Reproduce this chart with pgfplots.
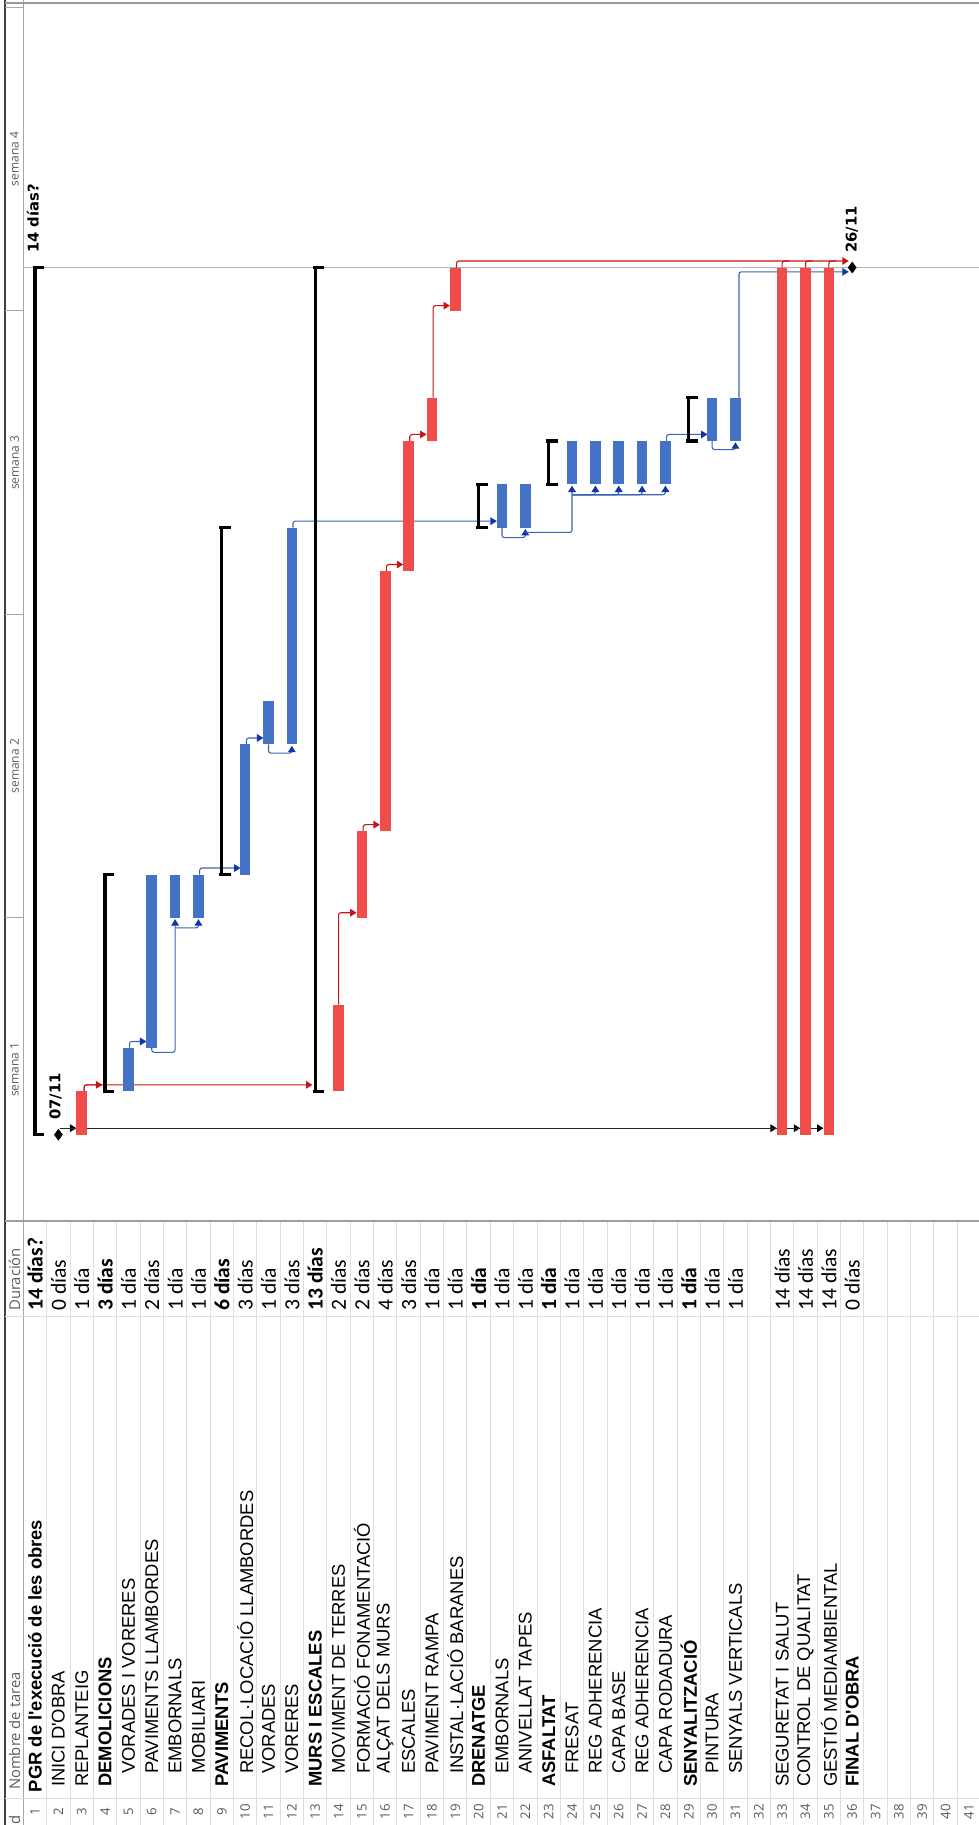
\documentclass[border=0pt]{standalone}
\usepackage{fontspec}
\setmainfont{Liberation Sans}
\newfontfamily\calfont{Carlito}
\newfontfamily\segfont{Open Sans}
\newfontfamily\dvfont{DejaVu Sans}
\usepackage{pgfplots}
\pgfplotsset{compat=1.18}
\usetikzlibrary{arrows.meta}

\definecolor{critred}{RGB}{240,76,76}
\definecolor{taskblue}{RGB}{68,114,196}
\definecolor{linkred}{RGB}{200,20,20}
\definecolor{linkblue}{RGB}{60,100,180}
\definecolor{arrblue}{RGB}{20,50,170}
\definecolor{gridgray}{RGB}{222,222,222}
\definecolor{hdrgray}{RGB}{90,90,90}

\pgfdeclareplotmark{capr}{\pgfpathmoveto{\pgfqpoint{-1.2pt}{0pt}}\pgfpathlineto{\pgfqpoint{4.6pt}{0pt}}\pgfusepathqstroke}

\pgfplotsset{
  critbar/.style={critred, line width=5.3pt, line cap=butt, mark=none},
  taskbar/.style={taskblue, line width=5.3pt, line cap=butt, mark=none},
  sumbar/.style={black, line width=1.6pt, line cap=butt, mark=capr, mark options={line width=1.7pt, solid, line cap=butt}},
  rlink/.style={linkred, line width=0.55pt, rounded corners=1.2pt, mark=none, -{Triangle[length=3.2pt,width=3.8pt]}},
  rline/.style={linkred, line width=0.55pt, rounded corners=1.2pt, mark=none},
  blink/.style={linkblue, line width=0.55pt, rounded corners=1.2pt, mark=none, -{Triangle[length=3.2pt,width=3.8pt,color=arrblue]}},
  klink/.style={black!85, line width=0.55pt, rounded corners=1.2pt, mark=none, -{Triangle[length=3.2pt,width=3.8pt,color=black]}},
  gline/.style={gridgray, line width=0.5pt, mark=none},
}

\newcommand\crit[3]{\addplot[critbar] coordinates {(#1,#2) (#1,#3)};}
\newcommand\task[3]{\addplot[taskbar] coordinates {(#1,#2) (#1,#3)};}
\newcommand\summ[3]{\addplot[sumbar] coordinates {(#1,#2) (#1,#3)};}
\newcommand\nmfont{\fontsize{9.2}{10}\selectfont}
\newcommand\nameL[3]{\node[rotate=90, anchor=west, inner sep=0pt, font=\nmfont] at (axis cs:#1,#2) {#3};}
\newcommand\dur[2]{\node[rotate=90, anchor=west, inner sep=0pt, font=\calfont\fontsize{10.8}{11}\selectfont] at (axis cs:#1,-4.07) {#2};}
\newcommand\hdrfont{\segfont\fontsize{7.4}{8}\selectfont}
\newcommand\lblfont{\dvfont\bfseries\fontsize{7.4}{8}\selectfont}

\begin{document}
\begin{tikzpicture}
\begin{axis}[
  width=489.5pt, height=912.5pt, scale only axis,
  xmin=-0.5, xmax=41.43, ymin=-15.92, ymax=26.17,
  hide axis, clip=true
]
% ---------- frame and grid ----------
\addplot[black!75, line width=0.8pt, mark=none] coordinates {(-0.285,-15.92) (-0.285,26.17)};
\addplot[gray!70, line width=0.6pt, mark=none] coordinates {(0.5,-15.92) (0.5,26.17)};
\addplot[gray!80, line width=1pt, mark=none] coordinates {(-0.285,26.11) (41.43,26.11)};
\addplot[gray!60, line width=0.6pt, mark=none] coordinates {(0.5,20) (41.43,20)};
\pgfplotsinvokeforeach{5,12,19,26}{\addplot[gray!70, line width=0.5pt, mark=none] coordinates {(-0.285,#1) (0.5,#1)};}
\pgfplotsinvokeforeach{1.5,2.5,...,41.5}{\addplot[gline] coordinates {(#1,-1.99) (#1,-15.92)};}
\addplot[gray!75, line width=0.8pt, mark=none] coordinates {(-0.285,-1.99) (41.43,-1.99)};
\addplot[gline] coordinates {(-0.285,-4.2) (41.43,-4.2)};
\addplot[gline] coordinates {(-0.285,-15.3) (41.43,-15.3)};

% ---------- week labels ----------
\node[rotate=90, font=\segfont\fontsize{6}{7}\selectfont, text=hdrgray, inner sep=0pt] at (axis cs:0.12,1.5) {semana 1};
\node[rotate=90, font=\segfont\fontsize{6}{7}\selectfont, text=hdrgray, inner sep=0pt] at (axis cs:0.12,8.5) {semana 2};
\node[rotate=90, font=\segfont\fontsize{6}{7}\selectfont, text=hdrgray, inner sep=0pt] at (axis cs:0.12,15.5) {semana 3};
\node[rotate=90, font=\segfont\fontsize{6}{7}\selectfont, text=hdrgray, inner sep=0pt] at (axis cs:0.12,22.5) {semana 4};

% ---------- header texts ----------
\node[rotate=90, anchor=west, inner sep=0pt, font=\hdrfont, text=hdrgray] at (axis cs:0.12,-4.07) {Duración};
\node[rotate=90, anchor=west, inner sep=0pt, font=\hdrfont, text=hdrgray] at (axis cs:0.12,-15.12) {Nombre de tarea};
\node[rotate=90, anchor=west, inner sep=0pt, font=\hdrfont, text=hdrgray] at (axis cs:0.12,-16.02) {Id};

% ---------- links ----------
\addplot[klink] coordinates {(2.05,0.15) (2.77,0.15)};
\addplot[klink] coordinates {(2.05,0.15) (32.77,0.15)};
\addplot[klink] coordinates {(2.05,0.15) (33.77,0.15)};
\addplot[klink] coordinates {(2.05,0.15) (34.77,0.15)};

\addplot[rlink] coordinates {(3.1,1.0) (3.1,1.15) (3.88,1.15)};
\addplot[rlink] coordinates {(3.1,1.0) (3.1,1.15) (12.88,1.15)};
\addplot[rlink] coordinates {(14.0,3.0) (14.0,5.12) (14.77,5.12)};
\addplot[rlink] coordinates {(15.05,7.0) (15.05,7.15) (15.77,7.15)};
\addplot[rlink] coordinates {(16.05,13.0) (16.05,13.15) (16.77,13.15)};
\addplot[rlink] coordinates {(17.05,16.0) (17.05,16.15) (17.77,16.15)};
\addplot[rlink] coordinates {(18.05,17.0) (18.05,19.12) (18.77,19.12)};
\addplot[rlink] coordinates {(19.05,20.0) (19.05,20.15) (35.85,20.15)};
\addplot[rline] coordinates {(33.0,20.0) (33.0,20.15) (33.3,20.15)};
\addplot[rline] coordinates {(34.0,20.0) (34.0,20.15) (34.3,20.15)};
\addplot[rline] coordinates {(35.0,20.0) (35.0,20.15) (35.3,20.15)};

\addplot[blink] coordinates {(5.05,2.0) (5.05,2.15) (5.77,2.15)};
\addplot[blink] coordinates {(6.0,2.0) (6.0,1.9) (7.0,1.9) (7.0,4.97)};
\addplot[blink] coordinates {(7.0,4.77) (8.0,4.77) (8.0,4.97)};
\addplot[blink] coordinates {(8.05,6.0) (8.05,6.15) (9.8,6.15)};
\addplot[blink] coordinates {(10.05,9.0) (10.05,9.15) (10.78,9.15)};
\addplot[blink] coordinates {(11.0,9.0) (11.0,8.8) (12.0,8.8) (12.0,8.97)};
\addplot[blink] coordinates {(12.05,14.0) (12.05,14.15) (20.78,14.15)};
\addplot[blink] coordinates {(21.0,14.0) (21.0,13.77) (22.0,13.77) (22.0,13.97)};
\addplot[blink] coordinates {(22.0,13.89) (24.0,13.89) (24.0,14.97)};
\addplot[blink] coordinates {(24.0,14.76) (25.0,14.76) (25.0,14.97)};
\addplot[blink] coordinates {(24.0,14.76) (26.0,14.76) (26.0,14.97)};
\addplot[blink] coordinates {(24.0,14.76) (27.0,14.76) (27.0,14.97)};
\addplot[blink] coordinates {(24.0,14.76) (28.0,14.76) (28.0,14.97)};
\addplot[blink] coordinates {(28.05,16.0) (28.05,16.15) (29.8,16.15)};
\addplot[blink] coordinates {(30.0,16.0) (30.0,15.8) (31.0,15.8) (31.0,15.97)};
\addplot[blink] coordinates {(31.15,17.0) (31.15,19.9) (35.85,19.9)};

% ---------- summaries ----------
\summ{1}{0}{20}
\summ{4}{1}{6}
\summ{9}{6}{14}
\summ{13}{1}{20}
\summ{20}{14}{15}
\summ{23}{15}{16}
\summ{29}{16}{17}

% ---------- critical tasks ----------
\crit{3}{0}{1}
\crit{14}{1}{3}
\crit{15}{5}{7}
\crit{16}{7}{13}
\crit{17}{13}{16}
\crit{18}{16}{17}
\crit{19}{19}{20}
\crit{33}{0}{20}
\crit{34}{0}{20}
\crit{35}{0}{20}

% ---------- other tasks ----------
\task{5}{1}{2}
\task{6}{2}{6}
\task{7}{5}{6}
\task{8}{5}{6}
\task{10}{6}{9}
\task{11}{9}{10}
\task{12}{9}{14}
\task{21}{14}{15}
\task{22}{14}{15}
\task{24}{15}{16}
\task{25}{15}{16}
\task{26}{15}{16}
\task{27}{15}{16}
\task{28}{15}{16}
\task{30}{16}{17}
\task{31}{16}{17}

% ---------- milestones ----------
\addplot[only marks, mark=diamond*, mark size=2.6pt, black] coordinates {(2,0) (36,20)};

% ---------- chart labels ----------
\node[rotate=90, anchor=west, inner sep=0pt, font=\lblfont] at (axis cs:0.9,20.33) {14 días?};
\node[rotate=90, anchor=west, inner sep=0pt, font=\lblfont] at (axis cs:1.88,0.33) {07/11};
\node[rotate=90, anchor=west, inner sep=0pt, font=\lblfont] at (axis cs:35.98,20.33) {26/11};

% ---------- table: names ----------
\nameL{1}{-15.17}{\bfseries PGR de l\textquotesingle execució de les obres}
\nameL{2}{-15.05}{INICI D\textquotesingle OBRA}
\nameL{3}{-15.05}{REPLANTEIG}
\nameL{4}{-15.05}{\bfseries DEMOLICIONS}
\nameL{5}{-14.75}{VORADES I VORERES}
\nameL{6}{-14.75}{PAVIMENTS LLAMBORDES}
\nameL{7}{-14.75}{EMBORNALS}
\nameL{8}{-14.75}{MOBILIARI}
\nameL{9}{-15.05}{\bfseries PAVIMENTS}
\nameL{10}{-14.75}{RECOL·LOCACIÓ LLAMBORDES}
\nameL{11}{-14.75}{VORADES}
\nameL{12}{-14.75}{VORERES}
\nameL{13}{-15.05}{\bfseries MURS I ESCALES}
\nameL{14}{-14.75}{MOVIMENT DE TERRES}
\nameL{15}{-14.75}{FORMACIÓ FONAMENTACIÓ}
\nameL{16}{-14.75}{ALÇAT DELS MURS}
\nameL{17}{-14.75}{ESCALES}
\nameL{18}{-14.75}{PAVIMENT RAMPA}
\nameL{19}{-14.75}{INSTAL·LACIÓ BARANES}
\nameL{20}{-15.05}{\bfseries DRENATGE}
\nameL{21}{-14.75}{EMBORNALS}
\nameL{22}{-14.75}{ANIVELLAT TAPES}
\nameL{23}{-15.05}{\bfseries ASFALTAT}
\nameL{24}{-14.75}{FRESAT}
\nameL{25}{-14.75}{REG ADHERENCIA}
\nameL{26}{-14.75}{CAPA BASE}
\nameL{27}{-14.75}{REG ADHERENCIA}
\nameL{28}{-14.75}{CAPA RODADURA}
\nameL{29}{-15.05}{\bfseries SENYALITZACIÓ}
\nameL{30}{-14.75}{PINTURA}
\nameL{31}{-14.75}{SENYALS VERTICALS}
\nameL{33}{-15.05}{SEGURETAT I SALUT}
\nameL{34}{-15.05}{CONTROL DE QUALITAT}
\nameL{35}{-15.05}{GESTIÓ MEDIAMBIENTAL}
\nameL{36}{-15.05}{\bfseries FINAL D\textquotesingle OBRA}

% ---------- table: durations ----------
\dur{1}{\bfseries 14 días?}
\dur{2}{0 días}
\dur{3}{1 día}
\dur{4}{\bfseries 3 días}
\dur{5}{1 día}
\dur{6}{2 días}
\dur{7}{1 día}
\dur{8}{1 día}
\dur{9}{\bfseries 6 días}
\dur{10}{3 días}
\dur{11}{1 día}
\dur{12}{3 días}
\dur{13}{\bfseries 13 días}
\dur{14}{2 días}
\dur{15}{2 días}
\dur{16}{4 días}
\dur{17}{3 días}
\dur{18}{1 día}
\dur{19}{1 día}
\dur{20}{\bfseries 1 día}
\dur{21}{1 día}
\dur{22}{1 día}
\dur{23}{\bfseries 1 día}
\dur{24}{1 día}
\dur{25}{1 día}
\dur{26}{1 día}
\dur{27}{1 día}
\dur{28}{1 día}
\dur{29}{\bfseries 1 día}
\dur{30}{1 día}
\dur{31}{1 día}
\dur{33}{14 días}
\dur{34}{14 días}
\dur{35}{14 días}
\dur{36}{0 días}

% ---------- table: ids ----------
\pgfplotsinvokeforeach{1,...,41}{\node[rotate=90, inner sep=0pt, font=\segfont\fontsize{6.6}{7}\selectfont, text=hdrgray] at (axis cs:#1,-15.62) {#1};}
\end{axis}
\pgfresetboundingbox
\useasboundingbox (current axis.south west) rectangle (current axis.north east);
\end{tikzpicture}
\end{document}
